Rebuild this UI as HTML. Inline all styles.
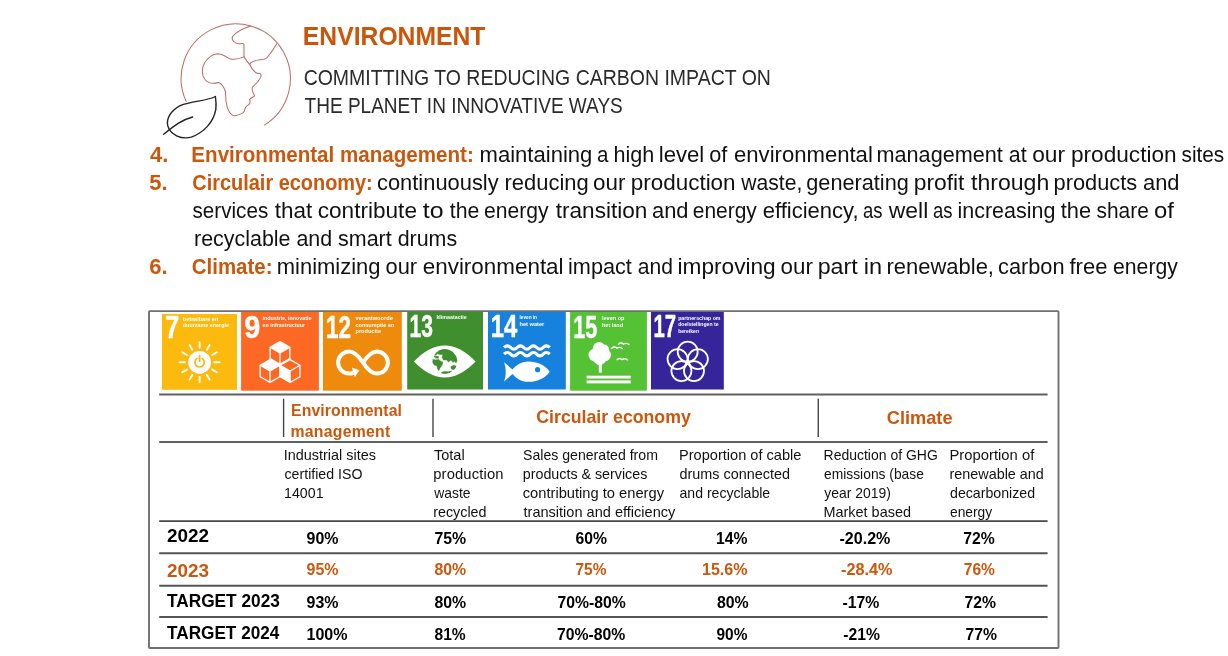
<!DOCTYPE html>
<html lang="en"><head><meta charset="utf-8"><title>Environment</title>
<style>
html,body{margin:0;padding:0;background:#fff}
body{width:1228px;height:656px;position:relative;overflow:hidden;font-family:"Liberation Sans",sans-serif}
.t{display:block;position:absolute;white-space:nowrap;line-height:1;margin:0;padding:0;font-weight:normal;transform-origin:0 0}
.b{font-weight:bold}
svg{position:absolute;left:0;top:0}
svg text{font-family:"Liberation Sans",sans-serif;font-weight:bold;fill:#fff}
</style></head><body>
<svg width="150" height="132" viewBox="0 0 745 656" style="left:156px;top:14px" fill="none" stroke-linecap="round" stroke-linejoin="round">
<g stroke="#bf6a62" stroke-width="5">
<path d="M150 435 A271.5 271.5 0 1 1 538 552"/>
<path d="M470 60 C440 70 400 85 380 112 C372 130 392 148 412 148 C425 148 437 144 437 152 L437 213"/>
<path d="M437 213 C415 222 385 228 365 222 C345 212 330 198 305 198 C275 200 255 222 240 245 C225 275 228 305 245 328 C262 345 290 346 310 340 C328 345 338 365 345 385 C346 410 345 430 352 455 C356 475 365 495 385 505 C400 506 420 498 435 490 C442 478 440 468 450 458 C462 450 472 445 465 425 C470 415 488 412 490 408 C485 395 470 375 480 362 C495 350 510 335 520 315 C524 300 520 292 505 296 C490 290 475 270 466 252 C466 240 490 232 510 228 C525 226 545 228 553 215 C570 195 588 170 600 148"/>
<path d="M437 213 C445 225 455 240 466 252"/>
</g>
<g stroke="#222" stroke-width="7">
<path d="M295 410 C255 432 180 432 120 455 C75 478 50 520 58 555 C70 600 125 625 175 612 C235 590 285 540 297 475 C300 450 298 430 295 410 Z"/>
<path d="M38 598 C90 555 130 525 182 512"/>
</g>
</svg>
<svg width="1228" height="656" viewBox="0 0 1228 656">
<rect x="149" y="311.1" width="909.5" height="336.9" rx="0.8" fill="none" stroke="#707070" stroke-width="1.9"/>
<line x1="159.2" x2="1047.6" y1="394.45" y2="394.45" stroke="#606060" stroke-width="1.9"/>
<line x1="159.2" x2="1047.6" y1="442.00" y2="442.00" stroke="#606060" stroke-width="1.9"/>
<line x1="159.2" x2="1047.6" y1="521.10" y2="521.10" stroke="#484848" stroke-width="1.9"/>
<line x1="159.2" x2="1047.6" y1="553.30" y2="553.30" stroke="#555" stroke-width="1.9"/>
<line x1="159.2" x2="1047.6" y1="585.80" y2="585.80" stroke="#555" stroke-width="1.9"/>
<line x1="159.2" x2="1047.6" y1="617.00" y2="617.00" stroke="#555" stroke-width="1.9"/>
<line x1="283.60" x2="283.60" y1="398.75" y2="437" stroke="#444" stroke-width="1.4"/>
<line x1="433.00" x2="433.00" y1="398.75" y2="437" stroke="#444" stroke-width="1.4"/>
<line x1="818.25" x2="818.25" y1="398.75" y2="437" stroke="#444" stroke-width="1.4"/>
<rect x="162" y="314" width="75" height="75.8" fill="#fcb90e"/>
<text x="165.2" y="338.2" font-size="30.5" textLength="14.0" lengthAdjust="spacingAndGlyphs" stroke="#fff" stroke-width="0.45" stroke-linejoin="round">7</text>
<text x="182.8" y="320.7" font-size="5" textLength="35.5" lengthAdjust="spacingAndGlyphs">betaalbare en</text>
<text x="182.8" y="327.4" font-size="5" textLength="46.2" lengthAdjust="spacingAndGlyphs">duurzame energie</text>
<circle cx="199.6" cy="362.3" r="11.4" fill="#fff"/>
<line x1="214.20" y1="362.30" x2="219.60" y2="362.30" stroke="#fff" stroke-width="1.9" stroke-linecap="round"/>
<line x1="212.24" y1="369.60" x2="216.92" y2="372.30" stroke="#fff" stroke-width="1.9" stroke-linecap="round"/>
<line x1="206.90" y1="374.94" x2="209.60" y2="379.62" stroke="#fff" stroke-width="1.9" stroke-linecap="round"/>
<line x1="199.60" y1="376.90" x2="199.60" y2="382.30" stroke="#fff" stroke-width="1.9" stroke-linecap="round"/>
<line x1="192.30" y1="374.94" x2="189.60" y2="379.62" stroke="#fff" stroke-width="1.9" stroke-linecap="round"/>
<line x1="186.96" y1="369.60" x2="182.28" y2="372.30" stroke="#fff" stroke-width="1.9" stroke-linecap="round"/>
<line x1="185.00" y1="362.30" x2="179.60" y2="362.30" stroke="#fff" stroke-width="1.9" stroke-linecap="round"/>
<line x1="186.96" y1="355.00" x2="182.28" y2="352.30" stroke="#fff" stroke-width="1.9" stroke-linecap="round"/>
<line x1="192.30" y1="349.66" x2="189.60" y2="344.98" stroke="#fff" stroke-width="1.9" stroke-linecap="round"/>
<line x1="199.60" y1="347.70" x2="199.60" y2="342.30" stroke="#fff" stroke-width="1.9" stroke-linecap="round"/>
<line x1="206.90" y1="349.66" x2="209.60" y2="344.98" stroke="#fff" stroke-width="1.9" stroke-linecap="round"/>
<line x1="212.24" y1="355.00" x2="216.92" y2="352.30" stroke="#fff" stroke-width="1.9" stroke-linecap="round"/>
<path d="M202.20 358.40 A4.7 4.7 0 1 1 197.00 358.40" fill="none" stroke="#fcb90e" stroke-width="1.7" stroke-linecap="round"/>
<line x1="199.60" y1="355.60" x2="199.60" y2="361.40" stroke="#fcb90e" stroke-width="1.7" stroke-linecap="round"/>
<rect x="241.1" y="312" width="77.8" height="78.7" fill="#fd6925"/>
<text x="244.2" y="338.2" font-size="30.5" textLength="16.0" lengthAdjust="spacingAndGlyphs" stroke="#fff" stroke-width="0.45" stroke-linejoin="round">9</text>
<text x="262.6" y="320.0" font-size="5" textLength="48.9" lengthAdjust="spacingAndGlyphs">industrie, innovatie</text>
<text x="262.6" y="326.6" font-size="5" textLength="42.4" lengthAdjust="spacingAndGlyphs">en infrastructuur</text>
<polygon points="280.00,341.50 289.87,347.20 280.00,352.90 270.13,347.20" fill="#fff"/>
<polygon points="280.00,341.50 289.87,347.20 289.87,358.60 280.00,364.30 270.13,358.60 270.13,347.20" fill="none" stroke="#fff" stroke-width="1.3" stroke-linejoin="round"/>
<path d="M280.00 352.90 L270.13 347.20 M280.00 352.90 L289.87 347.20 M280.00 352.90 L280.00 364.30" stroke="#fff" stroke-width="1.3" fill="none"/>
<polygon points="270.00,359.60 279.87,365.30 270.00,371.00 260.13,365.30" fill="#fff"/>
<polygon points="270.00,359.60 279.87,365.30 279.87,376.70 270.00,382.40 260.13,376.70 260.13,365.30" fill="none" stroke="#fff" stroke-width="1.3" stroke-linejoin="round"/>
<path d="M270.00 371.00 L260.13 365.30 M270.00 371.00 L279.87 365.30 M270.00 371.00 L270.00 382.40" stroke="#fff" stroke-width="1.3" fill="none"/>
<polygon points="280.23,365.30 290.10,371.00 290.10,382.40 280.23,376.70" fill="#fff"/>
<polygon points="290.10,359.60 299.97,365.30 299.97,376.70 290.10,382.40 280.23,376.70 280.23,365.30" fill="none" stroke="#fff" stroke-width="1.3" stroke-linejoin="round"/>
<path d="M290.10 371.00 L280.23 365.30 M290.10 371.00 L299.97 365.30 M290.10 371.00 L290.10 382.40" stroke="#fff" stroke-width="1.3" fill="none"/>
<rect x="323" y="312" width="78.8" height="78.7" fill="#ee8b0c"/>
<text x="326.0" y="337.8" font-size="30.5" textLength="25.0" lengthAdjust="spacingAndGlyphs" stroke="#fff" stroke-width="0.45" stroke-linejoin="round">12</text>
<text x="355.5" y="319.8" font-size="5" textLength="37.5" lengthAdjust="spacingAndGlyphs">verantwoorde</text>
<text x="355.5" y="326.5" font-size="5" textLength="38.9" lengthAdjust="spacingAndGlyphs">consumptie en</text>
<text x="355.5" y="332.9" font-size="5" textLength="25.5" lengthAdjust="spacingAndGlyphs">productie</text>
<path d="M363.0 362.6 C367.0 356.6 371.0 351.6 376.9 351.6 A11.0 11.0 0 1 1 376.9 373.6 C371.0 373.6 367.0 368.6 363.0 362.6 C359.0 356.6 355.0 351.6 349.1 351.6 A11.0 11.0 0 1 0 349.1 373.6 Q351.5 373.6 353.5 372.8" fill="none" stroke="#fff" stroke-width="4" stroke-linecap="butt"/>
<polygon points="351.8,367.4 359.4,370.2 354.8,377.2" fill="#fff"/>
<rect x="407.2" y="312" width="75.8" height="77.5" fill="#3f8f2f"/>
<text x="409.6" y="337.0" font-size="30.5" textLength="23.4" lengthAdjust="spacingAndGlyphs" stroke="#fff" stroke-width="0.45" stroke-linejoin="round">13</text>
<text x="436.4" y="319.4" font-size="5" textLength="30.4" lengthAdjust="spacingAndGlyphs">klimaatactie</text>
<path d="M413.9 361.6 Q444.7 329.5 475.6 361.6 Q444.7 393.5 413.9 361.6 Z" fill="#fff"/>
<clipPath id="gl"><circle cx="444.9" cy="361.5" r="12.5"/></clipPath>
<g clip-path="url(#gl)" fill="#3f8f2f" stroke="#3f8f2f" stroke-width="0.5" stroke-linejoin="round">
<polygon points="439.15,349.61 443.31,348.84 448.44,349.48 452.92,352.04 456.12,356.34 457.41,360.50 456.12,362.74 454.33,361.14 453.05,362.55 451.00,359.99 448.57,361.91 446.52,359.99 443.44,359.99 442.03,357.42 442.80,354.22 440.11,354.86 437.55,353.77 435.62,355.12 433.57,354.48 434.86,352.17 437.55,352.04"/>
<polygon points="432.55,359.22 435.62,359.99 438.19,359.22 440.75,361.14 442.80,362.10 442.16,365.11 440.24,367.67 438.83,370.62 437.55,368.96 436.91,365.75 434.34,365.11 432.42,362.55"/>
<polygon points="433.83,356.34 436.27,356.02 438.83,356.78 438.19,358.26 435.62,357.94"/>
<polygon points="451.00,366.39 454.20,365.30 456.25,366.27 455.61,368.83 453.05,369.85 451.00,368.57"/>
<polygon points="441.26,372.35 444.59,371.39 448.44,371.77 451.77,371.01 449.85,373.06 445.23,373.76 442.03,373.38"/>
</g>
<rect x="488" y="312" width="77.8" height="77.5" fill="#1782de"/>
<text x="490.7" y="336.6" font-size="30.5" textLength="26.5" lengthAdjust="spacingAndGlyphs" stroke="#fff" stroke-width="0.45" stroke-linejoin="round">14</text>
<text x="519.5" y="319.4" font-size="5" textLength="17.5" lengthAdjust="spacingAndGlyphs">leven in</text>
<text x="519.5" y="325.8" font-size="5" textLength="24.8" lengthAdjust="spacingAndGlyphs">het water</text>
<path d="M504.10 347.50 q3.26 -3.40 6.51 0 q3.26 3.40 6.51 0 q3.26 -3.40 6.51 0 q3.26 3.40 6.51 0 q3.26 -3.40 6.51 0 q3.26 3.40 6.51 0 q3.26 -3.40 6.51 0" fill="none" stroke="#fff" stroke-width="3.2"/>
<path d="M504.10 354.20 q3.26 -3.40 6.51 0 q3.26 3.40 6.51 0 q3.26 -3.40 6.51 0 q3.26 3.40 6.51 0 q3.26 -3.40 6.51 0 q3.26 3.40 6.51 0 q3.26 -3.40 6.51 0" fill="none" stroke="#fff" stroke-width="3.2"/>
<path d="M549.7 371.7 C545 365 537 361.6 528.3 361.6 C521 361.6 516 365.5 512.5 369.5 L504.1 362.3 Q507.5 371.9 504.1 381.5 L512.5 373.9 C516 378 521 381.8 528.3 381.8 C537 381.8 545 378.5 549.7 371.7 Z" fill="#fff"/>
<circle cx="537.6" cy="369.7" r="2.6" fill="#1782de"/>
<rect x="570.1" y="312" width="76.8" height="78.7" fill="#54c234"/>
<text x="573.2" y="337.8" font-size="30.5" textLength="24.0" lengthAdjust="spacingAndGlyphs" stroke="#fff" stroke-width="0.45" stroke-linejoin="round">15</text>
<text x="602.0" y="320.0" font-size="5" textLength="22.5" lengthAdjust="spacingAndGlyphs">leven op</text>
<text x="602.0" y="326.6" font-size="5" textLength="21.0" lengthAdjust="spacingAndGlyphs">het land</text>
<circle cx="599.0" cy="348.0" r="6.0" fill="#fff"/>
<circle cx="595.0" cy="355.0" r="6.5" fill="#fff"/>
<circle cx="604.5" cy="355.0" r="6.5" fill="#fff"/>
<circle cx="599.7" cy="358.5" r="6.5" fill="#fff"/>
<circle cx="604.0" cy="349.5" r="5.0" fill="#fff"/>
<rect x="598.8" y="362" width="3.1" height="10.6" fill="#fff"/>
<rect x="586.6" y="375.7" width="44.2" height="2.8" fill="#fff"/>
<rect x="586.6" y="380.4" width="44.2" height="3" fill="#fff"/>
<path d="M618.5 344.3 q2.5 -2.5 5.0 0.0 q2.5 -2.0 5.5 0.2" fill="none" stroke="#fff" stroke-width="1.3" stroke-linecap="round"/>
<path d="M611.8 348.3 q2.5 -2.5 5.0 0.0 q2.5 -2.0 5.5 0.2" fill="none" stroke="#fff" stroke-width="1.3" stroke-linecap="round"/>
<path d="M617.1 359.7 q2.5 -2.5 5.0 0.0 q2.5 -2.0 5.5 0.2" fill="none" stroke="#fff" stroke-width="1.3" stroke-linecap="round"/>
<rect x="651" y="312" width="72.8" height="77.5" fill="#35249a"/>
<text x="653.4" y="336.6" font-size="30.5" textLength="22.6" lengthAdjust="spacingAndGlyphs" stroke="#fff" stroke-width="0.45" stroke-linejoin="round">17</text>
<text x="678.2" y="319.8" font-size="5" textLength="42.3" lengthAdjust="spacingAndGlyphs">partnerschap om</text>
<text x="678.2" y="326.1" font-size="5" textLength="40.3" lengthAdjust="spacingAndGlyphs">doelstellingen te</text>
<text x="678.2" y="332.5" font-size="5" textLength="20.8" lengthAdjust="spacingAndGlyphs">bereiken</text>
<circle cx="687.70" cy="351.70" r="10" fill="none" stroke="#fff" stroke-width="1.8"/>
<circle cx="697.88" cy="359.09" r="10" fill="none" stroke="#fff" stroke-width="1.8"/>
<circle cx="693.99" cy="371.06" r="10" fill="none" stroke="#fff" stroke-width="1.8"/>
<circle cx="681.41" cy="371.06" r="10" fill="none" stroke="#fff" stroke-width="1.8"/>
<circle cx="677.52" cy="359.09" r="10" fill="none" stroke="#fff" stroke-width="1.8"/>
</svg>
<header>
<h1 class="t b" id="t0" style="left:302px;top:23px;font-size:26.23px;color:#c9560b;transform:translateX(0.85px) scaleX(0.9426)">ENVIRONMENT</h1>
<div class="t" id="t1" style="left:303px;top:67px;font-size:22.32px;color:#2a2a2a;transform:translateX(0.63px) scaleX(0.8732)">COMMITTING TO REDUCING CARBON IMPACT ON</div>
<div class="t" id="t2" style="left:304px;top:95px;font-size:22.32px;color:#2a2a2a;transform:translateX(0.57px) scaleX(0.8527)">THE PLANET IN INNOVATIVE WAYS</div>
</header>
<section class="commitments">
<div class="t b" id="t3" style="left:149.90px;top:144px;font-size:22.03px;color:#cb570d">4.</div>
<div class="t b" id="t4" style="left:191px;top:144px;font-size:22.03px;color:#cb570d;transform:translateX(0.33px) scaleX(0.9348)">Environmental management:</div>
<span class="t" id="t5" style="left:479px;top:144px;font-size:22.03px;color:#111;transform:translateX(0.50px) scaleX(1.0023)">maintaining</span>
<span class="t" id="t6" style="left:597px;top:144px;font-size:22.03px;color:#111;transform:translateX(0.07px) scaleX(0.9333)">a</span>
<span class="t" id="t7" style="left:613px;top:144px;font-size:22.03px;color:#111;transform:translateX(0.53px) scaleX(0.9806)">high</span>
<span class="t" id="t8" style="left:658px;top:144px;font-size:22.03px;color:#111;transform:translateX(0.74px) scaleX(1.0058)">level</span>
<span class="t" id="t9" style="left:709px;top:144px;font-size:22.03px;color:#111;transform:translateX(0.26px) scaleX(0.9859)">of</span>
<span class="t" id="t10" style="left:733px;top:144px;font-size:22.03px;color:#111;transform:translateX(1.00px) scaleX(1.0037)">environmental</span>
<span class="t" id="t11" style="left:876px;top:144px;font-size:22.03px;color:#111;transform:translateX(0.53px) scaleX(0.9823)">management</span>
<span class="t" id="t12" style="left:1008px;top:144px;font-size:22.03px;color:#111;transform:translateX(0.78px) scaleX(0.9710)">at</span>
<span class="t" id="t13" style="left:1032px;top:144px;font-size:22.03px;color:#111;transform:translateX(0.23px) scaleX(1.0325)">our</span>
<span class="t" id="t14" style="left:1070px;top:144px;font-size:22.03px;color:#111;transform:translateX(0.97px) scaleX(1.0274)">production</span>
<span class="t" id="t15" style="left:1181px;top:144px;font-size:22.03px;color:#111;transform:translateX(0.54px) scaleX(0.9429)">sites</span>
<div class="t b" id="t16" style="left:149.15px;top:172px;font-size:22.03px;color:#cb570d">5.</div>
<div class="t b" id="t17" style="left:192px;top:172px;font-size:22.03px;color:#cb570d;transform:translateX(0.32px) scaleX(0.9047)">Circulair economy:</div>
<span class="t" id="t18" style="left:377px;top:172px;font-size:22.03px;color:#111;transform:translateX(0.01px) scaleX(0.9938)">continuously</span>
<span class="t" id="t19" style="left:504px;top:172px;font-size:22.03px;color:#111;transform:translateX(0.50px) scaleX(0.9969)">reducing</span>
<span class="t" id="t20" style="left:592px;top:172px;font-size:22.03px;color:#111;transform:translateX(0.99px) scaleX(1.0163)">our</span>
<span class="t" id="t21" style="left:630px;top:172px;font-size:22.03px;color:#111;transform:translateX(0.73px) scaleX(1.0200)">production</span>
<span class="t" id="t22" style="left:741px;top:172px;font-size:22.03px;color:#111;transform:translateX(0.25px) scaleX(0.9595)">waste,</span>
<span class="t" id="t23" style="left:806px;top:172px;font-size:22.03px;color:#111;transform:translateX(0.26px) scaleX(0.9853)">generating</span>
<span class="t" id="t24" style="left:913px;top:172px;font-size:22.03px;color:#111;transform:translateX(0.70px) scaleX(1.0368)">profit</span>
<span class="t" id="t25" style="left:970px;top:172px;font-size:22.03px;color:#111;transform:translateX(0.99px) scaleX(1.0479)">through</span>
<span class="t" id="t26" style="left:1053px;top:172px;font-size:22.03px;color:#111;transform:translateX(0.51px) scaleX(0.9909)">products</span>
<span class="t" id="t27" style="left:1143px;top:172px;font-size:22.03px;color:#111;transform:translateX(0.01px) scaleX(0.9928)">and</span>
<span class="t" id="t28" style="left:192px;top:200px;font-size:22.03px;color:#111;transform:translateX(0.55px) scaleX(0.9369)">services</span>
<span class="t" id="t29" style="left:274px;top:200px;font-size:22.03px;color:#111;transform:translateX(0.74px) scaleX(1.0205)">that</span>
<span class="t" id="t30" style="left:317px;top:200px;font-size:22.03px;color:#111;transform:translateX(0.72px) scaleX(1.0264)">contribute</span>
<span class="t" id="t31" style="left:422px;top:200px;font-size:22.03px;color:#111;transform:translateX(0.72px) scaleX(1.1304)">to</span>
<span class="t" id="t32" style="left:449px;top:200px;font-size:22.03px;color:#111;transform:translateX(0.76px) scaleX(0.9661)">the</span>
<span class="t" id="t33" style="left:484px;top:200px;font-size:22.03px;color:#111;transform:translateX(0.04px) scaleX(0.9585)">energy</span>
<span class="t" id="t34" style="left:555px;top:200px;font-size:22.03px;color:#111;transform:translateX(0.74px) scaleX(1.0256)">transition</span>
<span class="t" id="t35" style="left:652px;top:200px;font-size:22.03px;color:#111;transform:translateX(0.01px) scaleX(0.9928)">and</span>
<span class="t" id="t36" style="left:692px;top:200px;font-size:22.03px;color:#111;transform:translateX(0.80px) scaleX(0.9509)">energy</span>
<span class="t" id="t37" style="left:762.75px;top:200px;font-size:22.03px;color:#111">efficiency,</span>
<span class="t" id="t38" style="left:862px;top:200px;font-size:22.03px;color:#111;transform:translateX(0.91px) scaleX(0.8386)">as</span>
<span class="t" id="t39" style="left:888px;top:200px;font-size:22.03px;color:#111;transform:translateX(0.75px) scaleX(1.0411)">well</span>
<span class="t" id="t40" style="left:932px;top:200px;font-size:22.03px;color:#111;transform:translateX(0.91px) scaleX(0.8386)">as</span>
<span class="t" id="t41" style="left:957px;top:200px;font-size:22.03px;color:#111;transform:translateX(0.53px) scaleX(0.9744)">increasing</span>
<span class="t" id="t42" style="left:1060px;top:200px;font-size:22.03px;color:#111;transform:translateX(0.75px) scaleX(0.9915)">the</span>
<span class="t" id="t43" style="left:1096px;top:200px;font-size:22.03px;color:#111;transform:translateX(0.54px) scaleX(0.9484)">share</span>
<span class="t" id="t44" style="left:1153px;top:200px;font-size:22.03px;color:#111;transform:translateX(0.94px) scaleX(1.0845)">of</span>
<div class="t" id="t45" style="left:194px;top:228px;font-size:22.03px;color:#111;transform:translateX(0.04px) scaleX(0.9730)">recyclable and smart drums</div>
<div class="t b" id="t46" style="left:149.15px;top:256px;font-size:22.03px;color:#cb570d">6.</div>
<div class="t b" id="t47" style="left:191px;top:256px;font-size:22.03px;color:#cb570d;transform:translateX(0.80px) scaleX(0.9286)">Climate:</div>
<span class="t" id="t48" style="left:276px;top:256px;font-size:22.03px;color:#111;transform:translateX(0.75px) scaleX(0.9975)">minimizing</span>
<span class="t" id="t49" style="left:385px;top:256px;font-size:22.03px;color:#111;transform:translateX(0.51px) scaleX(0.9919)">our</span>
<span class="t" id="t50" style="left:422px;top:256px;font-size:22.03px;color:#111;transform:translateX(0.73px) scaleX(1.0184)">environmental</span>
<span class="t" id="t51" style="left:568px;top:256px;font-size:22.03px;color:#111;transform:translateX(0.02px) scaleX(0.9843)">impact</span>
<span class="t" id="t52" style="left:637px;top:256px;font-size:22.03px;color:#111;transform:translateX(0.79px) scaleX(0.9565)">and</span>
<span class="t" id="t53" style="left:677px;top:256px;font-size:22.03px;color:#111;transform:translateX(0.46px) scaleX(1.0296)">improving</span>
<span class="t" id="t54" style="left:780px;top:256px;font-size:22.03px;color:#111;transform:translateX(0.49px) scaleX(1.0163)">our</span>
<span class="t" id="t55" style="left:817px;top:256px;font-size:22.03px;color:#111;transform:translateX(0.68px) scaleX(1.0548)">part</span>
<span class="t" id="t56" style="left:863px;top:256px;font-size:22.03px;color:#111;transform:translateX(0.66px) scaleX(1.0690)">in</span>
<span class="t" id="t57" style="left:886px;top:256px;font-size:22.03px;color:#111;transform:translateX(0.50px) scaleX(0.9976)">renewable,</span>
<span class="t" id="t58" style="left:998px;top:256px;font-size:22.03px;color:#111;transform:translateX(0.01px) scaleX(0.9885)">carbon</span>
<span class="t" id="t59" style="left:1069.50px;top:256px;font-size:22.03px;color:#111">free</span>
<span class="t" id="t60" style="left:1113px;top:256px;font-size:22.03px;color:#111;transform:translateX(0.04px) scaleX(0.9623)">energy</span>
</section>
<section class="kpi-table">
<div class="t b" id="t61" style="left:291.00px;top:403px;font-size:15.80px;color:#cb570d;letter-spacing:0.104px">Environmental</div>
<div class="t b" id="t62" style="left:290.50px;top:424px;font-size:15.80px;color:#cb570d;letter-spacing:0.250px">management</div>
<div class="t b" id="t63" style="left:536px;top:408px;font-size:18.84px;color:#cb570d;transform:translateX(0.29px) scaleX(0.9403)">Circulair economy</div>
<div class="t b" id="t64" style="left:886px;top:409px;font-size:18.84px;color:#cb570d;transform:translateX(0.78px) scaleX(0.9663)">Climate</div>
<div class="t" id="t65" style="left:283px;top:448px;font-size:14.78px;color:#111;transform:translateX(0.78px) scaleX(0.9757)">Industrial sites</div>
<div class="t" id="t66" style="left:284px;top:467px;font-size:14.78px;color:#111;transform:translateX(0.52px) scaleX(0.9594)">certified ISO</div>
<div class="t" id="t67" style="left:284px;top:486px;font-size:14.78px;color:#111;transform:translateX(0.04px) scaleX(0.9620)">14001</div>
<div class="t" id="t68" style="left:434px;top:448px;font-size:14.78px;color:#111;transform:translateX(0.00px) scaleX(0.9833)">Total</div>
<div class="t" id="t69" style="left:433.25px;top:467px;font-size:14.78px;color:#111;letter-spacing:0.139px">production</div>
<div class="t" id="t70" style="left:434px;top:486px;font-size:14.78px;color:#111;transform:translateX(0.25px) scaleX(0.9408)">waste</div>
<div class="t" id="t71" style="left:433px;top:505px;font-size:14.78px;color:#111;transform:translateX(0.28px) scaleX(0.9670)">recycled</div>
<div class="t" id="t72" style="left:523px;top:448px;font-size:14.78px;color:#111;transform:translateX(0.03px) scaleX(0.9552)">Sales generated from</div>
<div class="t" id="t73" style="left:522px;top:467px;font-size:14.78px;color:#111;transform:translateX(0.78px) scaleX(0.9666)">products &amp; services</div>
<div class="t" id="t74" style="left:522px;top:486px;font-size:14.78px;color:#111;transform:translateX(0.75px) scaleX(0.9947)">contributing to energy</div>
<div class="t" id="t75" style="left:523px;top:505px;font-size:14.78px;color:#111;transform:translateX(0.50px) scaleX(0.9853)">transition and efficiency</div>
<div class="t" id="t76" style="left:679px;top:448px;font-size:14.78px;color:#111;transform:translateX(0.01px) scaleX(0.9877)">Proportion of cable</div>
<div class="t" id="t77" style="left:679px;top:467px;font-size:14.78px;color:#111;transform:translateX(0.51px) scaleX(0.9754)">drums connected</div>
<div class="t" id="t78" style="left:679px;top:486px;font-size:14.78px;color:#111;transform:translateX(0.52px) scaleX(0.9521)">and recyclable</div>
<div class="t" id="t79" style="left:823px;top:448px;font-size:14.78px;color:#111;transform:translateX(0.55px) scaleX(0.9473)">Reduction of GHG</div>
<div class="t" id="t80" style="left:824px;top:467px;font-size:14.78px;color:#111;transform:translateX(0.03px) scaleX(0.9360)">emissions (base</div>
<div class="t" id="t81" style="left:824px;top:486px;font-size:14.78px;color:#111;transform:translateX(0.26px) scaleX(0.9424)">year 2019)</div>
<div class="t" id="t82" style="left:823px;top:505px;font-size:14.78px;color:#111;transform:translateX(0.52px) scaleX(0.9771)">Market based</div>
<div class="t" id="t83" style="left:949.50px;top:448px;font-size:14.78px;color:#111;letter-spacing:0.021px">Proportion of</div>
<div class="t" id="t84" style="left:949px;top:467px;font-size:14.78px;color:#111;transform:translateX(0.53px) scaleX(0.9737)">renewable and</div>
<div class="t" id="t85" style="left:950px;top:486px;font-size:14.78px;color:#111;transform:translateX(0.02px) scaleX(0.9599)">decarbonized</div>
<div class="t" id="t86" style="left:950px;top:505px;font-size:14.78px;color:#111;transform:translateX(0.03px) scaleX(0.9326)">energy</div>
<div class="t b" id="t87" style="left:167px;top:526px;font-size:18.99px;color:#000;transform:translateX(0.00px) scaleX(0.9951)">2022</div>
<div class="t b" id="t88" style="left:167px;top:561px;font-size:18.99px;color:#cb570d;transform:translateX(0.00px) scaleX(0.9951)">2023</div>
<div class="t b" id="t89" style="left:167px;top:591px;font-size:18.99px;color:#000;transform:translateX(0.00px) scaleX(0.9089)">TARGET 2023</div>
<div class="t b" id="t90" style="left:167px;top:623px;font-size:18.99px;color:#000;transform:translateX(0.00px) scaleX(0.9052)">TARGET 2024</div>
<div class="t b" id="t91" style="left:306px;top:530px;font-size:16.23px;color:#000;transform:translateX(0.51px) scaleX(0.9841)">90%</div>
<div class="t b" id="t92" style="left:306px;top:561px;font-size:16.23px;color:#cb570d;transform:translateX(0.51px) scaleX(0.9841)">95%</div>
<div class="t b" id="t93" style="left:306px;top:594px;font-size:16.23px;color:#000;transform:translateX(0.51px) scaleX(0.9841)">93%</div>
<div class="t b" id="t94" style="left:306px;top:626px;font-size:16.23px;color:#000;transform:translateX(0.51px) scaleX(0.9875)">100%</div>
<div class="t b" id="t95" style="left:434px;top:530px;font-size:16.23px;color:#000;transform:translateX(0.51px) scaleX(0.9762)">75%</div>
<div class="t b" id="t96" style="left:434px;top:561px;font-size:16.23px;color:#cb570d;transform:translateX(0.51px) scaleX(0.9762)">80%</div>
<div class="t b" id="t97" style="left:434px;top:594px;font-size:16.23px;color:#000;transform:translateX(0.51px) scaleX(0.9762)">80%</div>
<div class="t b" id="t98" style="left:434px;top:626px;font-size:16.23px;color:#000;transform:translateX(0.52px) scaleX(0.9603)">81%</div>
<div class="t b" id="t99" style="left:575px;top:530px;font-size:16.23px;color:#000;transform:translateX(0.52px) scaleX(0.9683)">60%</div>
<div class="t b" id="t100" style="left:575px;top:561px;font-size:16.23px;color:#cb570d;transform:translateX(0.52px) scaleX(0.9524)">75%</div>
<div class="t b" id="t101" style="left:557px;top:594px;font-size:16.23px;color:#000;transform:translateX(0.51px) scaleX(0.9712)">70%-80%</div>
<div class="t b" id="t102" style="left:557px;top:626px;font-size:16.23px;color:#000;transform:translateX(0.01px) scaleX(0.9712)">70%-80%</div>
<div class="t b" id="t103" style="left:716px;top:530px;font-size:16.23px;color:#000;transform:translateX(0.03px) scaleX(0.9677)">14%</div>
<div class="t b" id="t104" style="left:702px;top:561px;font-size:16.23px;color:#cb570d;transform:translateX(0.01px) scaleX(0.9888)">15.6%</div>
<div class="t b" id="t105" style="left:717px;top:594px;font-size:16.23px;color:#000;transform:translateX(0.01px) scaleX(0.9762)">80%</div>
<div class="t b" id="t106" style="left:716px;top:626px;font-size:16.23px;color:#000;transform:translateX(0.52px) scaleX(0.9524)">90%</div>
<div class="t b" id="t107" style="left:839px;top:530px;font-size:16.23px;color:#000;transform:translateX(0.50px) scaleX(0.9901)">-20.2%</div>
<div class="t b" id="t108" style="left:841.00px;top:561px;font-size:16.23px;color:#cb570d">-28.4%</div>
<div class="t b" id="t109" style="left:842px;top:594px;font-size:16.23px;color:#000;transform:translateX(0.51px) scaleX(0.9730)">-17%</div>
<div class="t b" id="t110" style="left:843px;top:626px;font-size:16.23px;color:#000;transform:translateX(0.27px) scaleX(0.9662)">-21%</div>
<div class="t b" id="t111" style="left:963px;top:530px;font-size:16.23px;color:#000;transform:translateX(0.27px) scaleX(0.9683)">72%</div>
<div class="t b" id="t112" style="left:963px;top:561px;font-size:16.23px;color:#cb570d;transform:translateX(0.77px) scaleX(0.9603)">76%</div>
<div class="t b" id="t113" style="left:964px;top:594px;font-size:16.23px;color:#000;transform:translateX(0.52px) scaleX(0.9683)">72%</div>
<div class="t b" id="t114" style="left:965px;top:626px;font-size:16.23px;color:#000;transform:translateX(0.52px) scaleX(0.9683)">77%</div>
</section>
</body></html>
